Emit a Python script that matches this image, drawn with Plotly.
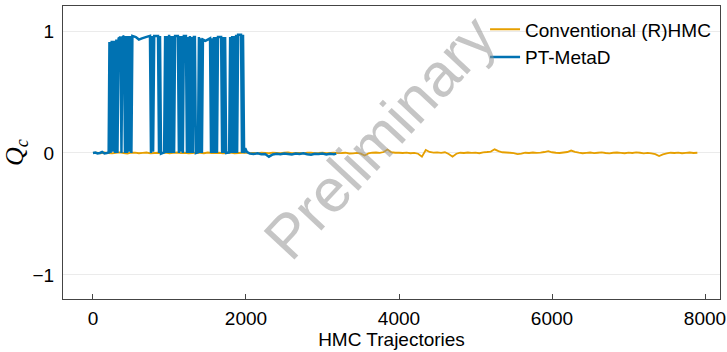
import plotly.graph_objects as go

# ---------------- data ----------------
series_names = ["Conventional (R)HMC", "PT-MetaD"]

# Conventional (R)HMC: Q_c sampled every 50 trajectories (thousandths), 0 .. 7900
conv_step = 50
conv_qc_milli = [
    0, 3, -2, 4, -1, -3, 2, 5, 0, -4, 2, 3, -2, 1, 4, -3, 0, 2, -1, 3,
    -2, 1, 4, -1, 2, -3, 0, 3, 1, -2, 4, 0, -1, 2, -3, 1, 3, -2, 0, 2,
    4, -1, 1, -3, 2, 0, -2, 3, 1, -1, 2, 4, -2, 0, 1, -3, 2, 3, -1, 0,
    2, -2, 1, 3, -1, 0, 2, -4, -3, 1, -6, -20, -4, 2, 4, 1, 8, 28, 6, 2,
    2, 0, 3, -2, 1, -6, -30, 25, 8, 3, 5, 1, 6, -8, -30, -6, 2, 0, 4, 1,
    3, -2, 5, 8, 12, 30, 15, 6, 4, 2, -2, -10, -6, 2, 0, 4, 1, 3, 8, 15,
    6, 2, 0, 4, 8, 20, 10, 3, -2, 1, 4, -1, 2, 5, 0, -3, 2, 4, 1, -2,
    3, 0, 5, 2, -3, 1, -4, -10, -25, -12, -4, 2, 0, 3, -2, 1, 4, 0, 2,
]
conv_traj = [i * conv_step for i in range(len(conv_qc_milli))]
conv_qc = [v / 1000 for v in conv_qc_milli]

# PT-MetaD: trajectory / Q_c pairs (tunnelling between Q_c ~ 0 and Q_c ~ 1)
pt_traj = [
    0, 30, 60, 90, 120, 150, 180, 205,
    215, 230, 245, 260, 275, 290, 305, 320, 335, 360, 372, 385, 405, 418,
    432, 446, 460, 474, 488, 502, 515,
    560, 600, 640, 690, 745,
    758, 772, 786, 800, 850,
    863, 876, 889, 930,
    943, 956, 969, 982, 995, 1008, 1021, 1034, 1047, 1060, 1073, 1110,
    1123, 1136, 1149, 1162, 1175, 1188, 1215,
    1228, 1241, 1254, 1267, 1280, 1293, 1306, 1319, 1332, 1345, 1372,
    1385, 1398, 1411, 1424, 1437, 1470, 1500, 1530,
    1543, 1556, 1569, 1582, 1595, 1608, 1621, 1634, 1675,
    1688, 1701, 1714, 1727, 1740, 1780,
    1793, 1806, 1819, 1832, 1845, 1858, 1871, 1884, 1897, 1935,
    1948, 1961, 1975,
    1990, 2010, 2050, 2100, 2150, 2200, 2250, 2300, 2350, 2400, 2450,
    2500, 2550, 2600, 2650, 2700, 2750, 2800, 2850, 2900, 2950, 3000,
    3050, 3100, 3150, 3180,
]
pt_qc = [
    0.0, 0.004, -0.004, 0.0, 0.008, -0.004, 0.0, 0.004,
    0.91, 0.0, 0.92, 0.01, 0.92, 0.0, 0.93, 0.0, 0.94, 0.95, 0.0, 0.95, 0.96, 0.0,
    0.96, 0.0, 0.96, 0.01, 0.96, 0.0, 0.96,
    0.95, 0.93, 0.94, 0.95, 0.96,
    0.0, 0.96, 0.01, 0.96, 0.96,
    0.0, 0.96, -0.005, 0.005,
    0.96, 0.0, 0.96, 0.0, 0.97, 0.0, 0.96, 0.0, 0.96, 0.0, 0.96, 0.96,
    0.0, 0.96, 0.01, 0.96, 0.0, 0.96, 0.96,
    0.0, 0.95, 0.0, 0.96, 0.0, 0.95, 0.0, 0.95, 0.95, 0.0, 0.005,
    0.95, 0.0, 0.94, 0.0, 0.93, 0.92, 0.93, 0.94,
    0.0, 0.94, 0.0, 0.95, 0.0, 0.95, 0.0, 0.95, 0.95,
    0.0, 0.95, 0.0, 0.95, 0.0, 0.005,
    0.95, 0.0, 0.96, 0.0, 0.96, 0.0, 0.97, 0.0, 0.97, 0.97,
    0.0, 0.97, 0.0,
    0.04, 0.01, -0.005, -0.008, -0.003, -0.01, -0.008, -0.03, -0.012, -0.006, -0.01,
    -0.004, -0.008, -0.012, -0.005, -0.009, -0.003, -0.01, -0.014, -0.006, -0.009, -0.004,
    -0.012, -0.007, -0.01, -0.005,
]

x_ticks = [0, 2000, 4000, 6000, 8000]
y_ticks = [-1, 0, 1]
x_title = "HMC Trajectories"
y_title = "<i>Q<sub>c</sub></i>"
watermark = "Preliminary"

colors = ["#E69F00", "#0072B2"]

# ---------------- figure ----------------
fig = go.Figure()
fig.add_trace(go.Scatter(x=conv_traj, y=conv_qc, mode="lines", name=series_names[0],
                         line=dict(color=colors[0], width=1.8, simplify=False)))
fig.add_trace(go.Scatter(x=pt_traj, y=pt_qc, mode="lines", name=series_names[1],
                         line=dict(color=colors[1], width=2.5, simplify=False)))

font_main = "Liberation Sans, Arial, Helvetica, sans-serif"

fig.update_layout(
    width=727, height=352,
    margin=dict(l=63, r=7, t=6, b=53, autoexpand=False),
    plot_bgcolor="white", paper_bgcolor="white",
    font=dict(family=font_main, size=19, color="black"),
    showlegend=True,
    legend=dict(x=0.994, xanchor="right", y=0.985, yanchor="top",
                bgcolor="rgba(0,0,0,0)", font=dict(size=19),
                itemwidth=30, tracegroupgap=0),
    annotations=[dict(
        text=watermark, x=3750, y=0.13, xref="x", yref="y",
        showarrow=False, textangle=-47,
        font=dict(family=font_main, size=61, color="rgba(150,150,150,0.55)"),
    )],
)

fig.update_xaxes(
    range=[-392, 8196], tickvals=x_ticks, automargin=False,
    showgrid=False, zeroline=False,
    showline=True, linecolor="#444", linewidth=1, mirror=True,
    ticks="inside", ticklen=5, tickcolor="#444", tickwidth=1,
    ticklabelstandoff=2, tickfont=dict(size=19),
    title=dict(text=x_title, font=dict(size=19), standoff=4),
)
fig.update_yaxes(
    range=[-1.197, 1.205], tickvals=y_ticks, automargin=False,
    showgrid=True, gridcolor="#ebebeb", gridwidth=1, zeroline=False,
    showline=True, linecolor="#444", linewidth=1, mirror=True,
    ticks="", ticklabelstandoff=4, tickfont=dict(size=19),
    title=dict(text=y_title, font=dict(family="Liberation Serif, DejaVu Serif, serif", size=26),
               standoff=8),
)

fig.write_html("out.html", config={"displayModeBar": False},
               post_script="document.body.style.margin='0';")
